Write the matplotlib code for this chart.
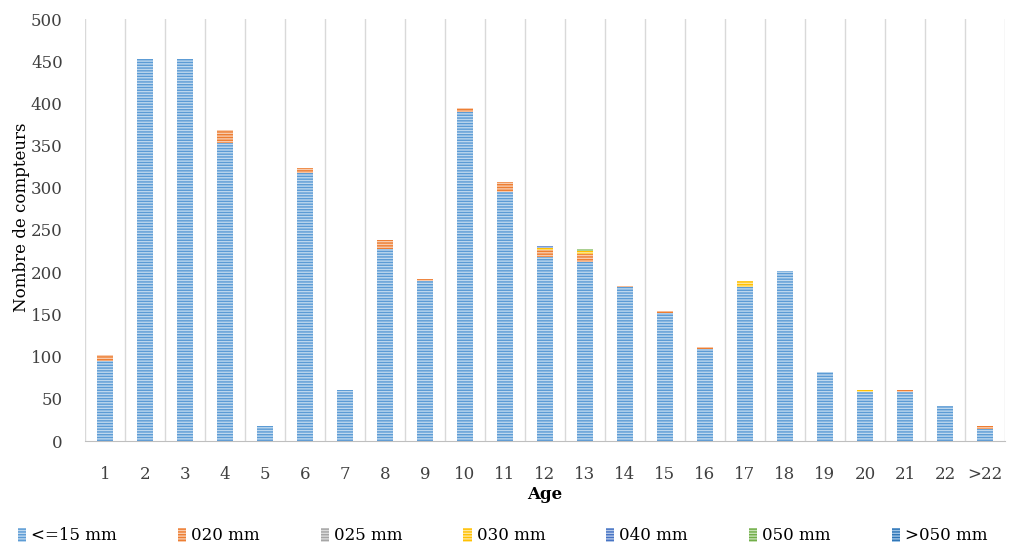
import numpy as np
import matplotlib.pyplot as plt

plt.rcParams['font.family'] = ['DejaVu Serif']
plt.rcParams['hatch.linewidth'] = 1.0

ages = ['1', '2', '3', '4', '5', '6', '7', '8', '9', '10', '11', '12',
        '13', '14', '15', '16', '17', '18', '19', '20', '21', '22', '>22']

s15 = [95, 453, 453, 353, 18, 318, 60, 228, 190, 390, 295, 218,
       212, 182, 152, 109, 182, 202, 82, 58, 58, 42, 14]
s20 = [7, 0, 0, 15, 0, 5, 0, 10, 2, 5, 12, 8,
       9, 2, 2, 2, 0, 0, 0, 0, 3, 0, 4]
s25 = [0] * 23
s30 = [0, 0, 0, 0, 0, 0, 0, 0, 0, 0, 0, 3,
       4, 0, 0, 0, 8, 0, 0, 3, 0, 0, 0]
s40 = [0, 0, 0, 0, 0, 0, 0, 0, 0, 0, 0, 2,
       0, 0, 0, 0, 0, 0, 0, 0, 0, 0, 0]
s50 = [0, 0, 0, 0, 0, 0, 0, 0, 0, 0, 0, 0,
       2, 0, 0, 0, 0, 0, 0, 0, 0, 0, 0]
s50p = [0] * 23

series = [
    ('<=15 mm', s15, '#BDD7EE', '#5B9BD5'),
    ('020 mm', s20, '#F8CBAD', '#ED7D31'),
    ('025 mm', s25, '#DBDBDB', '#A5A5A5'),
    ('030 mm', s30, '#FFE699', '#FFC000'),
    ('040 mm', s40, '#B4C7E7', '#4472C4'),
    ('050 mm', s50, '#C5E0B4', '#70AD47'),
    ('>050 mm', s50p, '#9DC3E6', '#2E75B6'),
]

fig = plt.figure(figsize=(10.22, 5.46), dpi=100)
ax = fig.add_axes([85 / 1022, 105 / 546, 920 / 1022, 422 / 546])

x = np.arange(len(ages))
bottom = np.zeros(len(ages))
for name, vals, face, edge in series:
    vals = np.array(vals, dtype=float)
    ax.bar(x, vals, width=0.42, bottom=bottom, color=face, edgecolor=edge,
           hatch='------', linewidth=0, label=name)
    bottom += vals

ax.set_xlim(-0.5, len(ages) - 0.5)
ax.set_ylim(0, 500)
ax.set_yticks(np.arange(0, 501, 50))
ax.set_xticks(x)
ax.set_xticklabels(ages)
for b in np.arange(-0.5, len(ages), 1.0):
    ax.axvline(b, color='#D9D9D9', linewidth=1, zorder=0)

for sp in ['top', 'right', 'left']:
    ax.spines[sp].set_visible(False)
ax.spines['bottom'].set_color('#BFBFBF')
ax.tick_params(axis='both', length=0, labelsize=12, colors='#404040')
ax.tick_params(axis='x', pad=18)
ax.tick_params(axis='y', pad=16)

ax.set_ylabel('Nombre de compteurs', fontsize=12)
ax.yaxis.set_label_coords(-0.06, 0.53)
ax.set_xlabel('Age', fontsize=12, fontweight='bold', labelpad=2)

ax.legend(loc='center', bbox_to_anchor=(0.454, -0.225), ncol=7, frameon=False,
          fontsize=12, handlelength=0.5, handleheight=0.9, columnspacing=3.65,
          handletextpad=0.3)

fig.savefig('out.png', dpi=100)
